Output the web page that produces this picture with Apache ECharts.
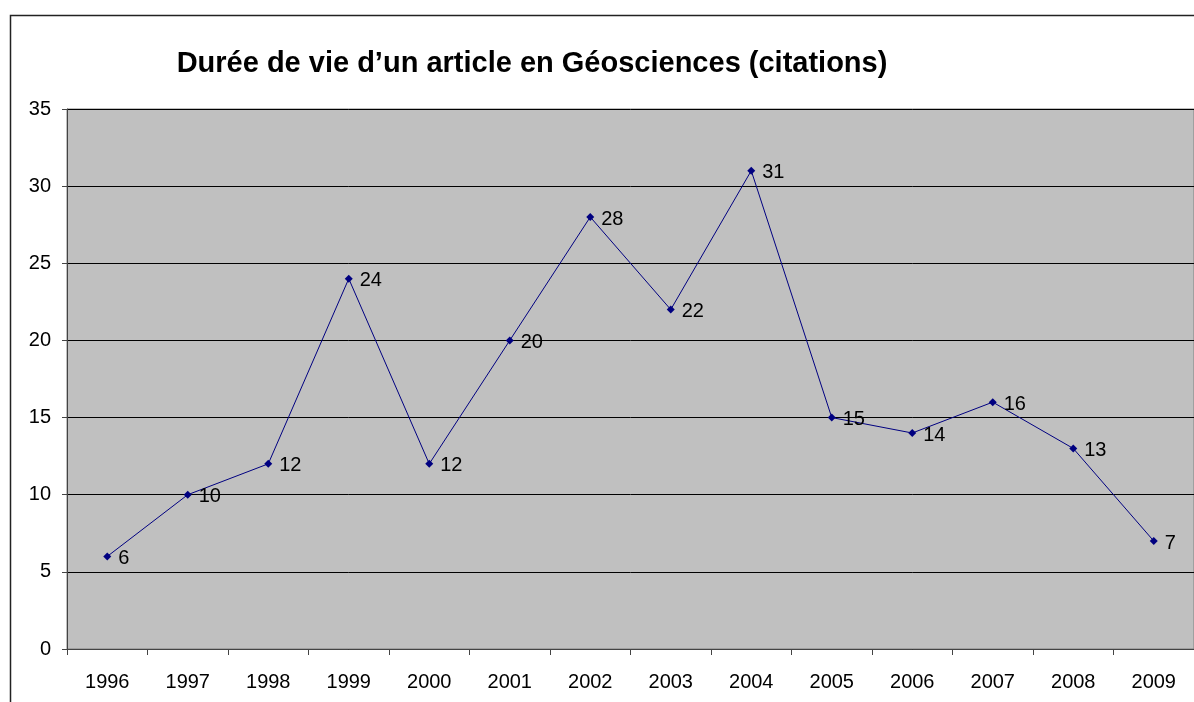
<!DOCTYPE html>
<html>
<head>
<meta charset="utf-8">
<script src="https://cdn.jsdelivr.net/npm/echarts@6/dist/echarts.min.js"></script>
<style>
  html, body { margin: 0; padding: 0; background: #fff; }
  #main { width: 1194px; height: 702px; }
</style>
</head>
<body>
<div id="main"></div>
<script>
  var years = ["1996", "1997", "1998", "1999", "2000", "2001", "2002", "2003", "2004", "2005", "2006", "2007", "2008", "2009"];
  var citations = [6, 10, 12, 24, 12, 20, 28, 22, 31, 15, 14, 16, 13, 7];
  var yTicks = { min: 0, max: 35, step: 5 };

  var chart = echarts.init(document.getElementById("main"));
  var font = "Arial, 'Liberation Sans', sans-serif";

  var option = {
    animation: false,
    backgroundColor: "#fff",
    title: {
      text: "Durée de vie d\u2019un article en Géosciences (citations)",
      left: 527,
      top: 44,
      textAlign: "center",
      textStyle: { fontFamily: font, fontSize: 29, fontWeight: "bold", color: "#000" }
    },
    graphic: [
      {
        type: "rect",
        shape: { x: 10.5, y: 15.5, width: 1300, height: 800 },
        style: { fill: null, stroke: "#222", lineWidth: 1.5 },
        z: -1
      }
    ],
    grid: {
      left: 67,
      top: 109,
      width: 1130,
      height: 540,
      show: true,
      backgroundColor: "#c0c0c0",
      borderColor: "#808080",
      borderWidth: 1
    },
    xAxis: {
      type: "category",
      data: years,
      boundaryGap: true,
      axisLine: { lineStyle: { color: "#444", width: 1 } },
      axisTick: { show: true, length: 6, inside: false, lineStyle: { color: "#444" } },
      axisLabel: { fontFamily: font, fontSize: 20, color: "#000", margin: 23 },
      splitLine: { show: false }
    },
    yAxis: {
      type: "value",
      min: yTicks.min,
      max: yTicks.max,
      interval: yTicks.step,
      axisLine: { show: true, lineStyle: { color: "#444", width: 1 } },
      axisTick: { show: true, length: 5, lineStyle: { color: "#444" } },
      axisLabel: { fontFamily: font, fontSize: 20, color: "#000", margin: 16 },
      splitLine: { show: true, lineStyle: { color: "#000", width: 1 } }
    },
    series: [
      {
        type: "line",
        data: citations,
        symbol: "diamond",
        symbolSize: 8,
        itemStyle: { color: "#000080" },
        lineStyle: { color: "#000080", width: 1 },
        label: {
          show: true,
          position: "right",
          distance: 7,
          offset: [0, 2],
          fontFamily: font,
          fontSize: 20,
          color: "#000"
        }
      }
    ]
  };

  chart.setOption(option);
</script>
</body>
</html>
